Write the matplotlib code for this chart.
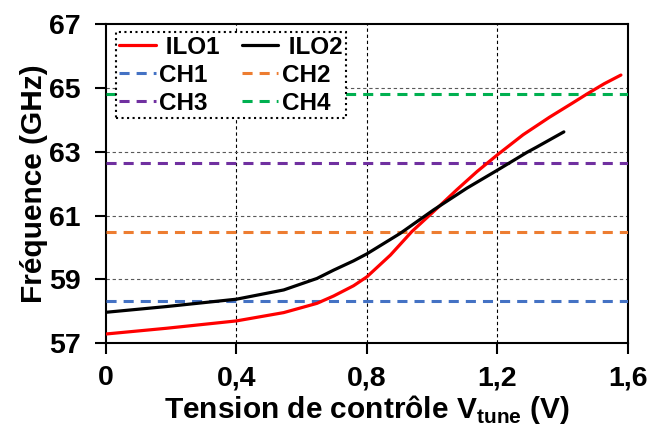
import numpy as np
import matplotlib
matplotlib.use("Agg")
import matplotlib.pyplot as plt

plt.rcParams['font.family'] = ['Liberation Sans', 'DejaVu Sans']
plt.rcParams['font.weight'] = 'bold'
plt.rcParams['axes.labelweight'] = 'bold'
plt.rcParams['mathtext.fontset'] = 'custom'
plt.rcParams['mathtext.rm'] = 'Liberation Sans:bold'
plt.rcParams['mathtext.bf'] = 'Liberation Sans:bold'

# tension de controle (V) / frequence (GHz)
v_ilo1 = [0.0, 0.186, 0.4, 0.545, 0.647, 0.698, 0.759, 0.8, 0.872, 0.938, 1.005,
          1.076, 1.138, 1.2, 1.279, 1.36, 1.43, 1.477, 1.528, 1.579]
f_ilo1 = [57.29, 57.47, 57.70, 57.96, 58.25, 58.48, 58.80, 59.08, 59.76, 60.50, 61.13,
          61.81, 62.38, 62.90, 63.53, 64.08, 64.52, 64.82, 65.13, 65.40]

v_ilo2 = [0.0, 0.186, 0.4, 0.545, 0.647, 0.698, 0.759, 0.8, 0.902, 1.005,
          1.107, 1.2, 1.291, 1.32, 1.404]
f_ilo2 = [57.97, 58.15, 58.38, 58.67, 59.03, 59.29, 59.58, 59.80, 60.44, 61.18,
          61.86, 62.42, 62.98, 63.14, 63.62]

ch_names = ['CH1', 'CH2', 'CH3', 'CH4']
ch_freq = [58.31, 60.48, 62.64, 64.81]
ch_colors = ['#4472C4', '#ED7D31', '#7030A0', '#00B050']

fig = plt.figure(figsize=(6.49, 4.28), dpi=100)
ax = fig.add_axes([0.1633, 0.198, 0.804, 0.746])

l1, = ax.plot(v_ilo1, f_ilo1, c='#FF0000', lw=2.3, label=' ILO1', zorder=4,
              solid_joinstyle='round', solid_capstyle='round')
l2, = ax.plot(v_ilo2, f_ilo2, c='black', lw=2.3, label=' ILO2', zorder=4,
              solid_joinstyle='round', solid_capstyle='round')
ch_lines = []
for name, f, col in zip(ch_names, ch_freq, ch_colors):
    h, = ax.plot([0, 1.6], [f, f], c=col, lw=2.2, ls=(0, (3.3, 2.3)), label=name, zorder=3)
    ch_lines.append(h)

ax.set_xlim(0, 1.6)
ax.set_ylim(57, 67)
ax.set_xticks([0, 0.4, 0.8, 1.2, 1.6])
ax.set_xticklabels(['0', '0,4', '0,8', '1,2', '1,6'])
ax.set_yticks([57, 59, 61, 63, 65, 67])
ax.tick_params(direction='out', length=8, width=1.5, labelsize=20.5)
ax.tick_params(axis='x', pad=8)
ax.tick_params(axis='y', pad=10)

for x in [0.4, 0.8, 1.2]:
    ax.axvline(x, color='black', lw=0.8, ls=(0, (3, 2.5)), zorder=1)
for y in [59, 61, 63, 65]:
    ax.axhline(y, color='#595959', lw=0.8, ls=(0, (3, 2.5)), zorder=1)

for s in ax.spines.values():
    s.set_linewidth(1.5)

ax.set_xlabel(r'Tension de contrôle V$_{\mathrm{tune}}$ (V)', fontsize=21.5, labelpad=1)
ax.set_ylabel('Fréquence (GHz)', fontsize=21.5, labelpad=1)

handles = [l1, ch_lines[0], ch_lines[2], l2, ch_lines[1], ch_lines[3]]
leg = ax.legend(handles=handles, ncol=2, loc='upper left', bbox_to_anchor=(0.0186, 0.974),
                prop={'size': 17.5, 'weight': 'bold'}, frameon=True, fancybox=False,
                borderpad=0.15, handlelength=1.5, handletextpad=0.15, columnspacing=0.9,
                labelspacing=0.2, borderaxespad=0)
fr = leg.get_frame()
fr.set_edgecolor('black')
fr.set_linestyle(':')
fr.set_linewidth(1.5)
fr.set_alpha(1)

fig.savefig('out.png', dpi=100)
